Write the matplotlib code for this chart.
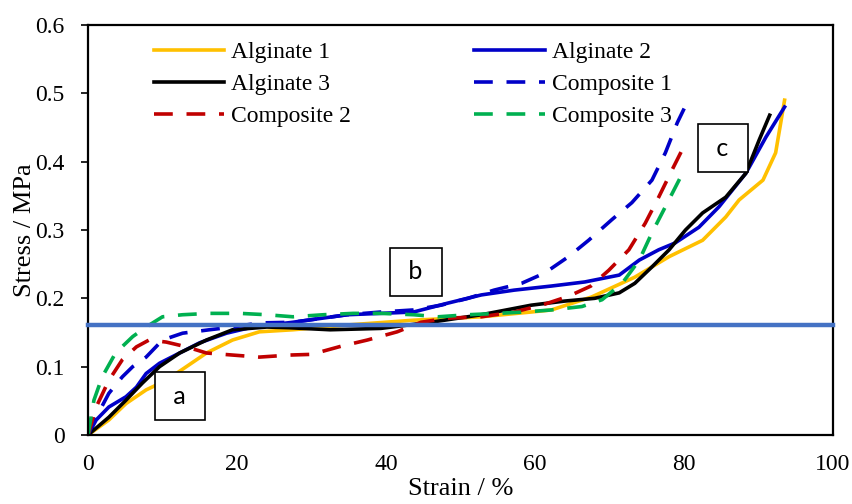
import matplotlib
matplotlib.use("Agg")
import matplotlib.pyplot as plt

# -------------------------
# DATA (strain %, stress MPa)
# -------------------------
alg1_x = [0, 2.8, 5.1, 7.8, 10.5, 13.2, 15.9, 19.4, 23, 27.5, 34.8, 43.7, 52.8, 59.5,
          62.2, 67.6, 73.4, 78, 82.5, 85.6, 87.4, 90.6, 92.3, 93.5]
alg1_y = [0, 0.022, 0.046, 0.066, 0.080, 0.100, 0.120, 0.139, 0.151, 0.154, 0.161, 0.168,
          0.173, 0.180, 0.183, 0.202, 0.231, 0.261, 0.285, 0.319, 0.344, 0.373, 0.413, 0.490]

alg2_x = [0, 1.1, 2.8, 5.1, 6.5, 7.8, 9.6, 12.3, 15, 18.6, 22.1, 27.5, 34.8, 43.7, 48.3,
          52.8, 57.2, 62.2, 66.7, 71.3, 74, 76.6, 78.8, 82, 84.7, 88.3, 91, 93.5]
alg2_y = [0, 0.022, 0.041, 0.056, 0.070, 0.090, 0.105, 0.120, 0.135, 0.149, 0.158, 0.165,
          0.176, 0.180, 0.193, 0.205, 0.212, 0.218, 0.224, 0.234, 0.256, 0.271, 0.281,
          0.304, 0.334, 0.383, 0.436, 0.480]

alg3_x = [0, 2.8, 5.1, 7.3, 9.6, 12.3, 15.9, 19.4, 24, 27, 32.5, 39.3, 46, 52.8, 59.5,
          64, 68, 71.3, 73.4, 75.7, 78, 80.2, 82.5, 85.6, 88.3, 90.1, 91.5]
alg3_y = [0, 0.026, 0.051, 0.076, 0.100, 0.120, 0.139, 0.154, 0.158, 0.157, 0.154, 0.156,
          0.165, 0.176, 0.190, 0.196, 0.200, 0.208, 0.222, 0.246, 0.271, 0.300, 0.325,
          0.348, 0.383, 0.432, 0.468]

comp1_x = [0, 1.1, 2.8, 4.6, 6, 7.8, 10, 12.7, 16.3, 19.4, 23, 27.5, 34.8, 39.3, 43.7,
           47.4, 51, 54.5, 58.2, 61.3, 64.5, 67.2, 70.3, 73, 75.7, 77.5, 79.1, 80.7]
comp1_y = [0, 0.026, 0.061, 0.085, 0.100, 0.114, 0.139, 0.149, 0.154, 0.158, 0.164, 0.165,
           0.176, 0.180, 0.183, 0.190, 0.200, 0.212, 0.222, 0.237, 0.261, 0.285, 0.315,
           0.340, 0.373, 0.413, 0.457, 0.493]

comp2_x = [0, 1.1, 2.8, 4.6, 6.5, 8.2, 10.5, 13.2, 15.9, 19.4, 23, 27.1, 30, 34, 37.5,
           41.5, 44.7, 48.3, 52.8, 57.2, 60.9, 64.5, 67.5, 69.9, 72.6, 74.8, 76.6, 78.4, 80.2]
comp2_y = [0, 0.041, 0.080, 0.110, 0.129, 0.139, 0.136, 0.129, 0.120, 0.117, 0.114, 0.117,
           0.118, 0.130, 0.139, 0.151, 0.165, 0.171, 0.173, 0.180, 0.190, 0.203, 0.218,
           0.241, 0.271, 0.310, 0.348, 0.388, 0.427]

comp3_x = [0, 0.8, 1.9, 3.7, 6, 7.8, 10, 12.7, 16.3, 20.4, 24, 27.5, 31.6, 35.6, 39.3,
           43.7, 47, 51, 55, 58.6, 62.2, 66.3, 69, 71.7, 74, 75.7, 77.5, 79.8]
comp3_y = [0, 0.051, 0.085, 0.120, 0.144, 0.158, 0.173, 0.176, 0.178, 0.178, 0.176, 0.173,
           0.176, 0.178, 0.178, 0.176, 0.173, 0.176, 0.178, 0.180, 0.183, 0.188, 0.198,
           0.222, 0.256, 0.296, 0.334, 0.383]

ref_stress = 0.161

labels = ["Alginate 1", "Alginate 2", "Alginate 3",
          "Composite 1", "Composite 2", "Composite 3"]

# -------------------------
# PLOT
# -------------------------
plt.rcParams["font.family"] = ["Liberation Serif", "DejaVu Serif"]
plt.rcParams["font.size"] = 17

fig = plt.figure(figsize=(8.53, 5.04), dpi=100)
ax = fig.add_axes([88 / 853, 69 / 504, 745 / 853, 410 / 504])

lw = 2.6
dash = (5.2, 3.8)
h1, = ax.plot(alg1_x, alg1_y, color="#FFC000", lw=lw, label=labels[0])
h2, = ax.plot(alg2_x, alg2_y, color="#0000C8", lw=lw, label=labels[1])
h3, = ax.plot(alg3_x, alg3_y, color="black", lw=lw, label=labels[2])
h4, = ax.plot(comp1_x, comp1_y, color="#0000C8", lw=lw, ls=(0, dash), label=labels[3])
h5, = ax.plot(comp2_x, comp2_y, color="#C00000", lw=lw, ls=(0, dash), label=labels[4])
h6, = ax.plot(comp3_x, comp3_y, color="#00B050", lw=lw, ls=(0, dash), label=labels[5])

ax.axhline(ref_stress, color="#4472C4", lw=3.2, zorder=5, clip_on=False)

ax.set_xlim(0, 100)
ax.set_ylim(0, 0.6)
ax.set_xticks([0, 20, 40, 60, 80, 100])
ax.set_yticks([0, 0.1, 0.2, 0.3, 0.4, 0.5, 0.6])
ax.set_yticklabels(["0", "0.1", "0.2", "0.3", "0.4", "0.5", "0.6"])
ax.tick_params(axis="x", length=0, pad=14)
ax.tick_params(axis="y", length=5, width=1.2, pad=12)
for s in ax.spines.values():
    s.set_linewidth(1.6)

ax.set_xlabel("Strain / %", fontsize=19)
ax.set_ylabel("Stress / MPa", fontsize=19)
ax.xaxis.set_label_coords(0.5, -0.105)
ax.yaxis.set_label_coords(-0.070, 0.5)

# box labels for the three regions
box = dict(boxstyle="square,pad=0.5", fc="white", ec="black", lw=1.2)
for txt, bx, by in [("a", 12.3, 0.057), ("b", 44.0, 0.239), ("c", 85.2, 0.42)]:
    ax.text(bx, by, " " + txt + " ", family="Lato", fontsize=18,
            ha="center", va="center", bbox=box, zorder=6)

# row-wise order like the original: matplotlib fills legend columns first
order = [h1, h3, h5, h2, h4, h6]
ax.legend(handles=order, ncol=2, frameon=False, loc="upper left",
          bbox_to_anchor=(0.088, 0.960), borderaxespad=0, borderpad=0,
          handlelength=3.0, handletextpad=0.3, columnspacing=5.2,
          labelspacing=0.45, fontsize=17)

fig.savefig("out.png", dpi=100)
